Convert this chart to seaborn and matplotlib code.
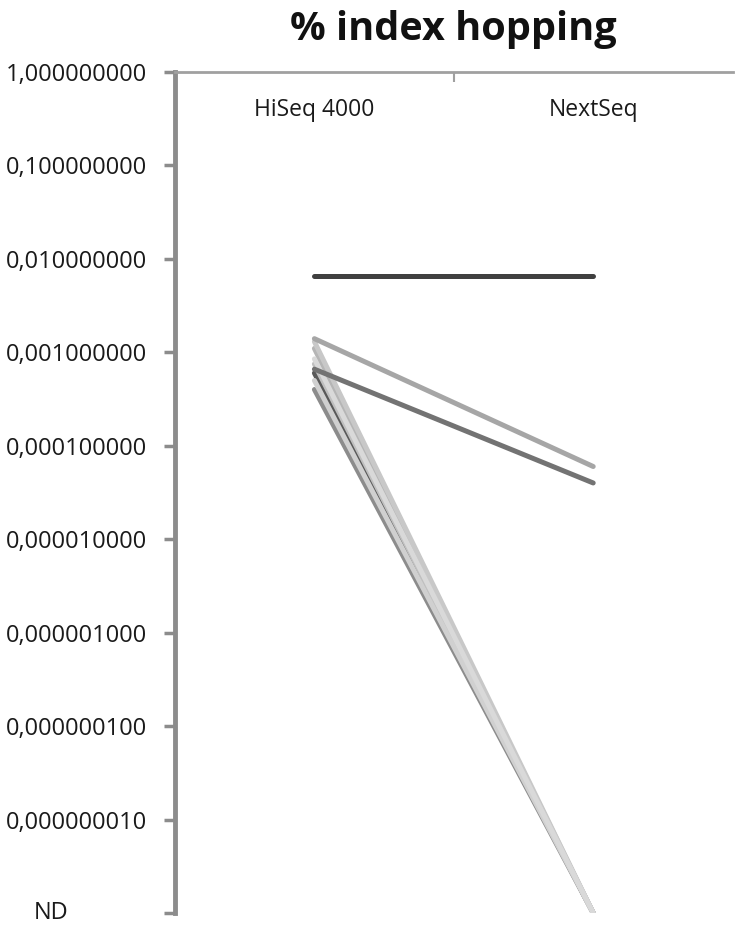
import matplotlib
matplotlib.use('Agg')
import matplotlib.pyplot as plt
import matplotlib.transforms as mtransforms
import seaborn as sns
import pandas as pd

# platforms and per-sample index hopping rates (ND = not detected, drawn at 1e-9)
platforms = ['HiSeq 4000', 'NextSeq']
ND = 1e-9
samples = ['s1', 's2', 's3', 's4', 's5', 's6', 's7', 's8', 's9', 's10']
hiseq = [0.0065, 0.0014, 0.00066, 0.0013, 0.0011, 0.00085, 0.00075, 0.0006, 0.0005, 0.0004]
nextseq = [0.0065, 0.00006, 0.00004, ND, ND, ND, ND, ND, ND, ND]
line_colors = ['#404040', '#a6a6a6', '#737373', '#c8c8c8', '#b5b5b5', '#d9d9d9',
               '#bfbfbf', '#595959', '#d0d0d0', '#8c8c8c']

ytick_vals = [1, 0.1, 0.01, 0.001, 0.0001, 0.00001, 0.000001, 0.0000001, 0.00000001, ND]
ytick_labels = ['1,000000000', '0,100000000', '0,010000000', '0,001000000', '0,000100000',
                '0,000010000', '0,000001000', '0,000000100', '0,000000010', '']

rows = []
for s, h, n in zip(samples, hiseq, nextseq):
    rows.append({'sample': s, 'platform': platforms[0], 'value': h})
    rows.append({'sample': s, 'platform': platforms[1], 'value': n})
df = pd.DataFrame(rows)

sns.set_style('white')
plt.rcParams['font.family'] = ['Open Sans', 'DejaVu Sans']

fig = plt.figure(figsize=(7.4, 9.31), dpi=100)
ax = fig.add_axes([0.2365, 0.0193, 0.7535, 0.9034])

# darker ND lines first, lighter ones on top, detected samples last
order = ['s8', 's10', 's5', 's7', 's4', 's9', 's6', 's3', 's2', 's1']
sns.lineplot(data=df, x='platform', y='value', hue='sample', hue_order=order,
             palette=dict(zip(samples, line_colors)), linewidth=3.6,
             legend=False, ax=ax, sort=False)
for ln in ax.lines:
    ln.set_solid_capstyle('round')

ax.set_yscale('log')
ax.set_ylim(ND, 1)
ax.set_xlim(-0.5, 1.5)
ax.set_yticks(ytick_vals)
ax.set_yticklabels(ytick_labels)
ax.minorticks_off()
ax.tick_params(axis='y', which='major', direction='out', length=8, width=2.5,
               color='#8c8c8c', labelsize=17, labelcolor='#1a1a1a', pad=12, left=True)

# category labels sit inside, below the top axis
ax.set_xticks([0.5])
ax.set_xticklabels([''])
ax.tick_params(axis='x', direction='in', length=7, width=1.5, color='#a0a0a0',
               top=True, bottom=False, labeltop=False, labelbottom=False)
ax.set_xlabel('')
ax.set_ylabel('')
for i, p in enumerate(platforms):
    ax.text(i, 0.39, p, ha='center', va='center', fontsize=16.5, color='#1a1a1a')

trans = mtransforms.blended_transform_factory(ax.transAxes, ax.transData)
ax.text(-0.222, ND, 'ND', ha='center', va='center', fontsize=17, color='#1a1a1a',
        transform=trans)

for side in ['right', 'bottom']:
    ax.spines[side].set_visible(False)
ax.spines['left'].set_color('#8c8c8c')
ax.spines['left'].set_linewidth(3.5)
ax.spines['top'].set_color('#a0a0a0')
ax.spines['top'].set_linewidth(2)

fig.text(0.612, 0.968, '% index hopping', ha='center', va='center', fontsize=28.5,
         fontweight='bold', color='#111111')

fig.savefig('out.png', dpi=100)
